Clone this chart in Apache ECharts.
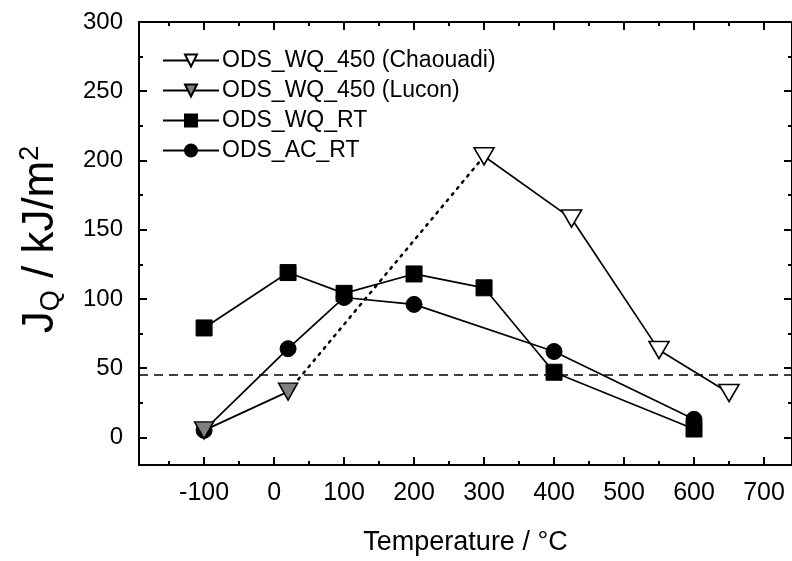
<!DOCTYPE html>
<html>
<head>
<meta charset="utf-8">
<script src="https://cdn.jsdelivr.net/npm/echarts@6/dist/echarts.min.js"></script>
<style>html,body{margin:0;padding:0;background:#fff}#c{width:792px;height:561px}</style>
</head>
<body>
<div id="c"></div>
<script>
// ---- data ----
var chaouadiX = [300, 425, 550, 650];
var chaouadiY = [203, 158, 63, 32];
var luconX = [-100, 20];
var luconY = [5, 33];
var wqRtX = [-100, 20, 100, 200, 300, 400, 600];
var wqRtY = [79, 119, 104, 118, 108, 47, 6];
var acRtX = [-100, 20, 100, 200, 400, 600];
var acRtY = [5, 64, 101, 96, 62, 13];
var thresholdY = 45;
var xMajorTicks = [-100, 0, 100, 200, 300, 400, 500, 600, 700];
var xMinorTicks = [-150, -50, 50, 150, 250, 350, 450, 550, 650];
var yMajorTicks = [0, 50, 100, 150, 200, 250, 300];
var yMinorTicks = [25, 75, 125, 175, 225, 275];
var names = ['ODS_WQ_450 (Chaouadi)', 'ODS_WQ_450 (Lucon)', 'ODS_WQ_RT', 'ODS_AC_RT'];

function pairs(xs, ys) { return xs.map(function (x, i) { return [x, ys[i]]; }); }

var X_MIN = -193, X_MAX = 740, Y_MIN = -20, Y_MAX = 300;
var FONT = 'Liberation Sans, Arial, sans-serif';
var GRID = { left: 139, right: -1, top: 22, bottom: 96 };

function xAxisDef(gi, pos, ticks, len, showLine) {
  return {
    gridIndex: gi, type: 'value', position: pos, min: X_MIN, max: X_MAX,
    axisLine: { show: showLine, onZero: false, lineStyle: { color: '#000', width: 2 } },
    axisTick: { show: true, inside: true, length: len, lineStyle: { color: '#000', width: 2 }, customValues: ticks },
    axisLabel: { show: false },
    splitLine: { show: false }
  };
}
function yAxisDef(gi, pos, ticks, len, showLine) {
  return {
    gridIndex: gi, type: 'value', position: pos, min: Y_MIN, max: Y_MAX,
    axisLine: { show: showLine, onZero: false, lineStyle: { color: '#000', width: 2 } },
    axisTick: { show: true, inside: true, length: len, lineStyle: { color: '#000', width: 2 }, customValues: ticks },
    axisLabel: { show: false },
    splitLine: { show: false }
  };
}

// grid 0: data + main axes with labels
var xMain = xAxisDef(0, 'bottom', xMajorTicks, 8, true);
xMain.axisLabel = { show: true, customValues: xMajorTicks, color: '#000', fontSize: 25, fontFamily: FONT, margin: 16 };
xMain.name = 'Temperature / \u00B0C';
xMain.nameLocation = 'middle';
xMain.nameGap = 64;
xMain.nameTextStyle = { color: '#000', fontSize: 27, fontFamily: FONT };

var yMain = yAxisDef(0, 'left', yMajorTicks, 8, true);
yMain.axisLabel = { show: true, customValues: yMajorTicks, color: '#000', fontSize: 24, fontFamily: FONT, margin: 16 };
yMain.name = '{j|J}{sub|Q}{j| / kJ/m}{sup|2}';
yMain.nameLocation = 'middle';
yMain.nameGap = 74;
yMain.nameTextStyle = {
  color: '#000', fontFamily: FONT, padding: [0, 0, 0, 8],
  rich: {
    j: { fontSize: 44, lineHeight: 48, fontFamily: FONT, color: '#000' },
    sub: { fontSize: 27, lineHeight: 18, verticalAlign: 'bottom', fontFamily: FONT, color: '#000' },
    sup: { fontSize: 27, lineHeight: 18, verticalAlign: 'top', fontFamily: FONT, color: '#000' }
  }
};

var lineBase = { color: '#000', width: 1.7 };

var chart = echarts.init(document.getElementById('c'), null, { renderer: 'canvas' });
chart.setOption({
  animation: false,
  backgroundColor: '#fff',
  grid: [
    Object.assign({}, GRID),
    Object.assign({}, GRID),
    Object.assign({}, GRID),
    Object.assign({}, GRID)
  ],
  xAxis: [
    xMain,
    xAxisDef(1, 'bottom', xMinorTicks, 4, false),
    xAxisDef(2, 'top', xMajorTicks, 8, true),
    xAxisDef(3, 'top', xMinorTicks, 4, false)
  ],
  yAxis: [
    yMain,
    yAxisDef(1, 'left', yMinorTicks, 4, false),
    yAxisDef(2, 'right', yMajorTicks, 8, true),
    yAxisDef(3, 'right', yMinorTicks, 4, false)
  ],
  legend: {
    data: names,
    orient: 'vertical', left: 157, top: 44,
    itemWidth: 56, itemHeight: 15, itemGap: 7,
    textStyle: { color: '#000', fontSize: 23, fontFamily: FONT, padding: [0, 0, 0, -2] },
    selectedMode: false
  },
  series: [
    {
      name: names[3], type: 'line', data: pairs(acRtX, acRtY),
      symbol: 'circle', symbolSize: 16,
      lineStyle: lineBase, itemStyle: { color: '#000', borderColor: '#000', borderWidth: 1 },
      z: 2,
      markLine: {
        silent: true, symbol: ['none', 'none'], label: { show: false },
        lineStyle: { color: '#000', width: 1.6, type: [9, 6] },
        data: [{ yAxis: thresholdY }]
      }
    },
    {
      name: names[2], type: 'line', data: pairs(wqRtX, wqRtY),
      symbol: 'rect', symbolSize: 16,
      lineStyle: lineBase, itemStyle: { color: '#000', borderColor: '#000', borderWidth: 1 },
      z: 3
    },
    {
      name: 'connector', type: 'line',
      data: [[luconX[luconX.length - 1], luconY[luconY.length - 1]], [chaouadiX[0], chaouadiY[0]]],
      symbol: 'none', lineStyle: { color: '#000', width: 2.5, type: [2, 6], cap: 'round' },
      z: 1
    },
    {
      name: names[1], type: 'line', data: pairs(luconX, luconY),
      symbol: 'triangle', symbolRotate: 180, symbolSize: [19, 17],
      lineStyle: lineBase, itemStyle: { color: '#808080', borderColor: '#000', borderWidth: 1.5 },
      z: 4
    },
    {
      name: names[0], type: 'line', data: pairs(chaouadiX, chaouadiY),
      symbol: 'triangle', symbolRotate: 180, symbolSize: [20, 17],
      lineStyle: lineBase, itemStyle: { color: '#fff', borderColor: '#000', borderWidth: 1.6 },
      z: 4
    }
  ]
});
</script>
</body>
</html>
